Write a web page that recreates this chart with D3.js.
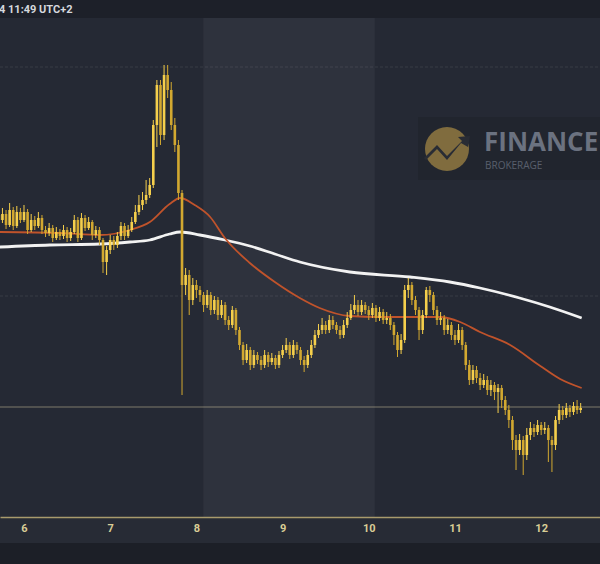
<!DOCTYPE html>
<html><head><meta charset="utf-8">
<script src="https://cdn.jsdelivr.net/npm/d3@7"></script>
<style>html,body{margin:0;padding:0;background:#1c1f27;} svg{display:block}</style>
</head><body>
<svg id="c" width="600" height="564"></svg>
<script>
// ---------- data ----------
const dayTicks = [6, 7, 8, 9, 10, 11, 12];
const startDay = 5, startHour = 17;          // first hourly candle: day 5, 17:00
const firstOpen = 3.85;
const closes = [3.80,3.86,3.75,3.90,3.74,3.88,3.80,3.88,3.70,3.80,3.74,3.82,3.70,3.67,3.72,3.62,3.68,3.64,3.70,3.62,
3.68,3.80,3.62,3.82,3.72,3.78,3.65,3.70,3.60,3.38,3.50,3.60,3.55,3.64,3.74,3.64,3.70,3.78,3.88,3.95,
4.00,4.05,4.15,4.75,5.15,4.65,5.25,5.10,4.75,4.55,4.07,3.15,3.25,3.00,3.15,3.10,3.05,2.95,3.05,2.90,
3.00,2.85,2.95,2.80,2.75,2.90,2.70,2.55,2.40,2.50,2.35,2.45,2.40,2.35,2.45,2.38,2.42,2.35,2.45,2.50,
2.55,2.45,2.55,2.50,2.40,2.35,2.45,2.55,2.65,2.70,2.75,2.70,2.80,2.75,2.70,2.65,2.75,2.82,2.90,2.95,
2.88,2.95,2.90,2.85,2.92,2.82,2.88,2.80,2.82,2.75,2.65,2.50,2.60,3.10,3.15,3.00,2.90,2.70,2.85,3.10,
3.05,2.90,2.80,2.82,2.70,2.75,2.65,2.60,2.70,2.55,2.35,2.20,2.30,2.22,2.15,2.20,2.10,2.15,2.08,2.12,
2.00,1.90,1.80,1.60,1.50,1.60,1.45,1.65,1.72,1.68,1.75,1.70,1.72,1.60,1.55,1.80,1.90,1.85,1.92,1.88,
1.94,1.90,1.92];
const highs = [3.90,3.92,3.90,3.97,3.93,3.94,3.92,3.95,3.91,3.86,3.84,3.88,3.85,3.74,3.77,3.75,3.73,3.71,3.75,3.73,
3.72,3.85,3.83,3.87,3.85,3.83,3.80,3.74,3.73,3.62,3.54,3.65,3.64,3.68,3.78,3.77,3.75,3.83,3.95,4.05,
4.08,4.20,4.22,4.80,5.20,5.20,5.35,5.35,5.18,4.82,4.60,4.10,3.32,3.30,3.22,3.20,3.14,3.08,3.10,3.08,
3.04,3.03,3.00,2.98,2.84,2.94,2.92,2.73,2.58,2.56,2.53,2.50,2.48,2.44,2.50,2.48,2.47,2.45,2.49,2.55,
2.62,2.58,2.60,2.58,2.53,2.44,2.50,2.60,2.70,2.76,2.82,2.79,2.85,2.84,2.78,2.74,2.80,2.88,2.96,3.05,
3.00,3.00,2.98,2.94,2.97,2.95,2.93,2.91,2.88,2.86,2.78,2.68,2.66,3.15,3.22,3.18,3.04,2.93,2.90,3.13,
3.14,3.08,2.94,2.88,2.85,2.81,2.78,2.70,2.76,2.73,2.58,2.40,2.35,2.34,2.27,2.26,2.24,2.20,2.18,2.16,
2.15,2.04,1.95,1.84,1.65,1.66,1.64,1.72,1.78,1.76,1.80,1.78,1.78,1.75,1.64,1.84,1.96,1.94,1.97,1.95,
1.98,2.00,1.97];
const lows = [3.76,3.77,3.71,3.73,3.70,3.72,3.77,3.78,3.66,3.68,3.70,3.72,3.66,3.63,3.64,3.58,3.60,3.60,3.61,3.58,
3.59,3.66,3.58,3.60,3.69,3.70,3.60,3.62,3.55,3.27,3.25,3.46,3.50,3.52,3.60,3.60,3.62,3.68,3.76,3.85,
3.90,3.96,4.02,4.12,4.53,4.55,4.60,5.02,4.70,4.48,4.00,2.05,3.05,2.85,2.95,3.02,2.98,2.88,2.92,2.85,
2.86,2.80,2.82,2.75,2.70,2.72,2.65,2.50,2.35,2.37,2.30,2.32,2.36,2.30,2.32,2.33,2.35,2.31,2.32,2.42,
2.47,2.41,2.42,2.46,2.35,2.28,2.32,2.42,2.52,2.62,2.66,2.66,2.67,2.71,2.66,2.61,2.62,2.72,2.80,2.86,
2.84,2.85,2.86,2.80,2.82,2.78,2.79,2.76,2.76,2.70,2.55,2.43,2.46,2.57,3.02,2.95,2.85,2.60,2.66,2.82,
2.98,2.85,2.75,2.75,2.65,2.66,2.60,2.55,2.57,2.50,2.30,2.15,2.16,2.17,2.10,2.12,2.05,2.04,2.00,1.87,
1.92,1.85,1.72,1.50,1.30,1.45,1.25,1.40,1.60,1.63,1.65,1.65,1.66,1.38,1.28,1.50,1.76,1.80,1.82,1.83,
1.85,1.86,1.87];
// moving averages: [day, price]
const maFast = [[5.72,3.68],[6.42,3.67],[6.88,3.65],[7.23,3.70],[7.46,3.78],[7.69,3.96],[7.81,4.02],[7.98,3.95],
[8.16,3.83],[8.33,3.62],[8.62,3.37],[8.91,3.18],[9.20,3.02],[9.43,2.92],[9.78,2.84],[10.13,2.83],[10.59,2.83],
[10.83,2.83],[11.06,2.78],[11.29,2.68],[11.64,2.55],[11.99,2.34],[12.22,2.21],[12.47,2.12]];
const maSlow = [[5.72,3.53],[6.30,3.55],[6.88,3.56],[7.23,3.58],[7.46,3.60],[7.69,3.66],[7.81,3.68],[8.04,3.65],
[8.33,3.60],[8.62,3.54],[8.91,3.46],[9.20,3.38],[9.78,3.28],[10.48,3.23],[10.94,3.18],[11.29,3.12],[11.75,3.02],
[12.10,2.93],[12.47,2.82]];
const faintLevels = [5.33, 3.04];
const priceLevel = 1.93;
const bandRange = [8.08, 10.07];
const headerText = "4 11:49 UTC+2";
const logoTitle = "FINANCE", logoSub = "BROKERAGE";

// ---------- build ----------
const W = 600, H = 564, plotTop = 18, plotBottom = 517;
const svg = d3.select("#c");
const x = d3.scaleLinear().domain([5.7216, 12.6825]).range([0, W]);
const y = d3.scaleLinear().domain([0.83, 5.82]).range([plotBottom, plotTop]);

const candles = closes.map((c, i) => ({
  t: startDay + (startHour + i) / 24,
  o: i === 0 ? firstOpen : closes[i - 1],
  c, h: highs[i], l: lows[i]
}));

// backgrounds
svg.append("rect").attr("x",0).attr("y",0).attr("width",W).attr("height",H).attr("fill","#1c1f27");
svg.append("rect").attr("x",0).attr("y",plotTop).attr("width",W).attr("height",plotBottom-plotTop).attr("fill","#252934");
svg.append("rect").attr("x",x(bandRange[0])).attr("y",plotTop)
  .attr("width",x(bandRange[1])-x(bandRange[0])).attr("height",plotBottom-plotTop).attr("fill","#2e323d");
svg.append("rect").attr("x",0).attr("y",plotBottom).attr("width",W).attr("height",26).attr("fill","#272b35");
svg.append("rect").attr("x",0).attr("y",0).attr("width",W).attr("height",plotTop).attr("fill","#1d2029");

// header
svg.append("text").attr("x",-1).attr("y",12.5).attr("fill","#d5d8de").attr("font-family","Roboto, sans-serif")
  .attr("font-size",11).attr("font-weight",700).text(headerText);

// logo watermark
const lg = svg.append("g").attr("opacity",0.9);
lg.append("rect").attr("x",418).attr("y",117).attr("width",182).attr("height",63).attr("fill","#21252e");
lg.append("circle").attr("cx",447).attr("cy",149).attr("r",22).attr("fill","#8a7440");
lg.append("path").attr("d","M426,160 L437,149 L447,160 L461,143 L468,147 L470,136 L458,137 L462,141 L447,156 L437,145 L424,158 Z")
  .attr("fill","#2a2d35");
lg.append("text").attr("x",484).attr("y",151).attr("fill","#737a89").attr("font-family","'Open Sans', sans-serif")
  .attr("font-size",26).attr("font-weight",700).text(logoTitle);
lg.append("text").attr("x",485).attr("y",169).attr("fill","#5f6573").attr("font-family","'Open Sans', sans-serif")
  .attr("font-size",10).text(logoSub);

// level lines
svg.selectAll("line.lvl").data(faintLevels).join("line").attr("class","lvl")
  .attr("x1",0).attr("x2",W).attr("y1",d=>y(d)).attr("y2",d=>y(d))
  .attr("stroke","#ffffff").attr("stroke-opacity",0.09).attr("stroke-dasharray","3,2");
svg.append("line").attr("x1",0).attr("x2",W).attr("y1",y(priceLevel)).attr("y2",y(priceLevel))
  .attr("stroke","#c9bd9a").attr("stroke-opacity",0.55).attr("stroke-width",1);

// moving averages
const line = d3.line().x(d=>x(d[0])).y(d=>y(d[1])).curve(d3.curveMonotoneX);
svg.append("path").attr("d",line(maSlow)).attr("fill","none").attr("stroke","#f2f2f2").attr("stroke-width",2.8);
svg.append("path").attr("d",line(maFast)).attr("fill","none").attr("stroke","#c0532b").attr("stroke-width",1.8);

// candles
const upC = "#f5cf4c", dnC = "#d2a830";
const g = svg.append("g");
g.selectAll("line.wick").data(candles).join("line").attr("class","wick")
  .attr("x1",d=>x(d.t)).attr("x2",d=>x(d.t)).attr("y1",d=>y(d.h)).attr("y2",d=>y(d.l))
  .attr("stroke",d=>d.c>=d.o?upC:dnC).attr("stroke-width",1);
g.selectAll("rect.body").data(candles).join("rect").attr("class","body")
  .attr("x",d=>x(d.t)-1.3).attr("width",2.6)
  .attr("y",d=>y(Math.max(d.o,d.c))).attr("height",d=>Math.max(1,Math.abs(y(d.o)-y(d.c))))
  .attr("fill",d=>d.c>=d.o?upC:dnC);

// x axis
const ax = svg.append("g").attr("transform",`translate(0,${plotBottom})`)
  .call(d3.axisBottom(x).tickValues(dayTicks).tickSize(0).tickPadding(7).tickFormat(d3.format("d")));
ax.select(".domain").attr("stroke","#a89a6c").attr("stroke-width",1.5);
ax.selectAll("text").attr("fill","#d9cd96").attr("font-family","Roboto, sans-serif")
  .attr("font-size",11).attr("font-weight",700);
</script>
</body></html>
